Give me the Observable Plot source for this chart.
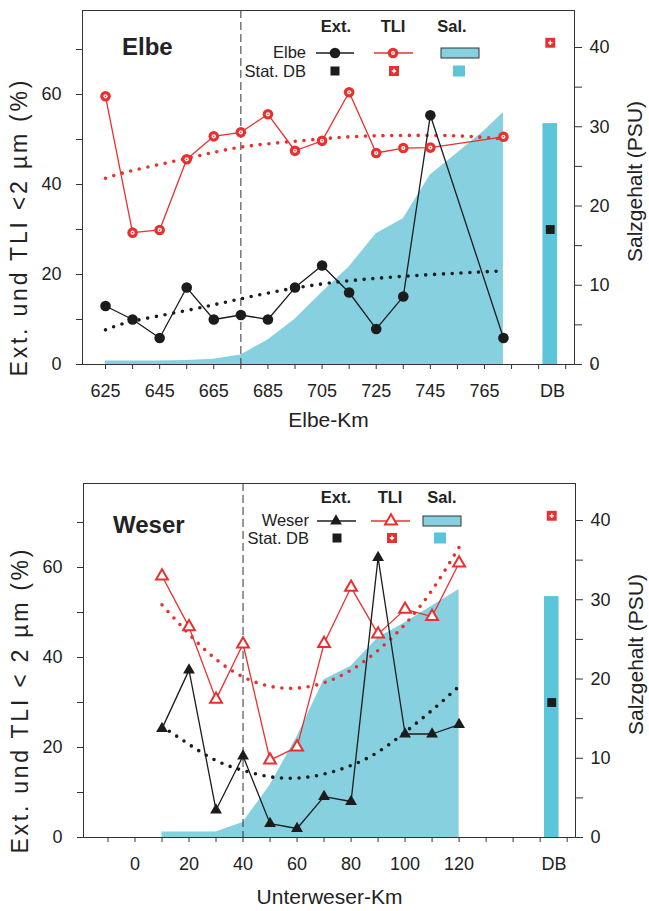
<!DOCTYPE html>
<html><head><meta charset="utf-8">
<script src="https://cdn.jsdelivr.net/npm/d3@7"></script>
<script src="https://cdn.jsdelivr.net/npm/@observablehq/plot@0.6"></script>
<style>
body{margin:0;background:#fff;width:649px;height:911px;overflow:hidden;font-family:"Liberation Sans",Arial,sans-serif;}
svg{display:block}
</style></head><body><div id="chart"></div>
<script>
// ---------- Elbe ----------
const elbeKm  = [625,635,645,655,665,675,685,695,705,715,725,735,745,772];
const elbeExt = [13.0,10.0,5.9,17.1,10.0,11.0,10.0,17.1,22.0,16.0,7.9,15.1,55.4,5.9];
const elbeTLI = [59.6,29.3,29.9,45.6,50.7,51.6,55.6,47.5,49.7,60.5,47.0,48.1,48.2,50.6];
const elbeTrendKm  = [625,635,655,675,695,715,735,755,772];
const elbeExtTrend = [7.7,9.6,12.0,14.6,17.0,18.6,19.6,20.3,20.8];
const elbeTLITrend = [41.4,43.1,45.8,48.3,49.6,50.6,50.9,50.8,50.1];
const elbeSalKm = [625,645,655,665,675,685,695,705,715,725,735,745,755,765,772];
const elbeSal   = [0.45,0.45,0.5,0.65,1.2,3.1,5.7,9.1,12.3,16.5,18.4,23.9,26.7,29.5,31.8];
const elbeXTicks = [625,635,645,655,665,675,685,695,705,715,725,735,745,755,765,775,785,795,805];
const elbeXLabels = [625,645,665,685,705,725,745,765];

// ---------- Weser ----------
const weserKm  = [10,20,30,40,50,60,70,80,90,100,110,120];
const weserExt = [24.2,37.2,6.1,18.1,3.1,2.0,9.1,8.0,62.2,23.0,23.0,25.1];
const weserTLI = [58.1,46.8,30.7,43.0,17.2,20.1,43.1,55.6,45.2,50.7,49.1,61.0];
const weserTrendKm  = [10,20,30,40,50,60,70,80,90,100,110,120];
const weserExtTrend = [24.7,20.7,17.1,14.9,13.5,13.2,14.1,16.0,19.0,23.4,28.3,33.6];
const weserTLITrend = [51.7,45.2,39.6,35.7,33.6,33.2,34.4,37.2,41.6,47.4,55.0,64.5];
const weserSalKm = [10,20,30,40,50,60,70,80,90,100,110,120];
const weserSal   = [0.7,0.7,0.7,1.9,6.6,12.7,19.9,21.6,25.2,27.1,29.2,31.3];
const weserXTicks = [-10,0,10,20,30,40,50,60,70,80,90,100,110,120,130,140,150,160];
const weserXLabels = [0,20,40,60,80,100,120];

// ---------- Stat. DB (same for both) ----------
const dbExt = 30.0, dbTLI = 71.5, dbSal = 30.4;

const yLeftTicks = [0,10,20,30,40,50,60,70];
const yLeftLabels = [0,20,40,60];
const yRightTicks = [0,5,10,15,20,25,30,35,40];
const yRightLabels = [0,10,20,30,40];

const RED = "#e8302e", BLACK = "#1c1c1c", AREA = "#86d0e0", DBC = "#5bc6da", AX = "#333";
const YMAX = 78.67, SALMAX = 44.67, k = YMAX / SALMAX;

function panel(cfg) {
  const pts = cfg.km.map((km, i) => ({km, ext: cfg.ext[i], tli: cfg.tli[i]}));
  const trend = cfg.trendKm.map((km, i) => ({km, ext: cfg.extTrend[i], tli: cfg.tliTrend[i]}));
  const sal = cfg.salKm.map((km, i) => ({km, s: cfg.sal[i] * k}));
  const db = [{km: cfg.dbKm, ext: dbExt, tli: dbTLI, s: dbSal * k}];
  const half = 2.7;
  const dotted = {curve: "natural", strokeWidth: 3.6, strokeDasharray: "0 8.8", strokeLinecap: "round"};
  const tliMarks = cfg.symbol === "circle" ? [
      Plot.dot(pts, {x: "km", y: "tli", r: 5.3, fill: RED, stroke: "none"}),
      Plot.dot(pts, {x: "km", y: "tli", r: 2.1, fill: "white", stroke: "none"}),
      Plot.dot(pts, {x: "km", y: "tli", r: 0.8, fill: RED, stroke: "none"})
    ] : [
      Plot.dot(pts, {x: "km", y: "tli", r: 4.4, symbol: "triangle", fill: "white", stroke: RED, strokeWidth: 2})
    ];
  const svg = Plot.plot({
    width: 649, height: cfg.height,
    marginTop: cfg.mt, marginBottom: cfg.mb, marginLeft: cfg.ml, marginRight: cfg.mr,
    style: {fontFamily: "'Liberation Sans', Arial, sans-serif", fontSize: "18px", color: "#222", background: "white"},
    x: {domain: cfg.xDomain, axis: null},
    y: {domain: [0, YMAX], axis: null},
    marks: [
      Plot.areaY(sal, {x: "km", y: "s", fill: AREA}),
      Plot.rectY(db, {x1: d => d.km - half, x2: d => d.km + half, y: "s", fill: DBC}),
      Plot.ruleX([cfg.boundary], {stroke: AX, strokeWidth: 1, strokeDasharray: "8,4"}),
      Plot.frame({stroke: AX, strokeWidth: 1}),
      Plot.line(trend, {x: "km", y: "tli", stroke: RED, ...dotted}),
      Plot.line(trend, {x: "km", y: "ext", stroke: BLACK, ...dotted}),
      Plot.line(pts, {x: "km", y: "tli", stroke: RED, strokeWidth: 1.3}),
      Plot.line(pts, {x: "km", y: "ext", stroke: BLACK, strokeWidth: 1.3}),
      ...tliMarks,
      Plot.dot(pts, {x: "km", y: "ext", r: cfg.symbol === "circle" ? 5.3 : 4.4, symbol: cfg.symbol, fill: BLACK, stroke: "none"}),
      Plot.dot(db, {x: "km", y: "ext", r: 5, symbol: "square", fill: BLACK, stroke: "none"}),
      Plot.dot(db, {x: "km", y: "tli", r: 5.6, symbol: "square", fill: RED, stroke: "none"}),
      Plot.dot(db, {x: "km", y: "tli", r: 1.8, symbol: "cross", fill: "white", stroke: "none"}),
      Plot.axisY(yLeftTicks, {anchor: "left", tickSize: 6, tickPadding: 15, stroke: AX, label: null,
        tickFormat: d => yLeftLabels.includes(d) ? d : ""}),
      Plot.axisY(yRightTicks.map(v => v * k), {anchor: "right", tickSize: 7, tickPadding: 8, stroke: AX, label: null,
        tickFormat: d => { const v = Math.round(d / k); return yRightLabels.includes(v) ? v : ""; }}),
      Plot.axisX(cfg.xTicks, {anchor: "bottom", tickSize: 5, tickPadding: 15, stroke: AX, label: null,
        tickFormat: d => cfg.xLabels.includes(d) ? d : ""}),
      Plot.axisX([cfg.dbKm + 0.8], {anchor: "bottom", tickSize: 0, tickPadding: 20, label: null, tickFormat: () => "DB"}),
      Plot.text([cfg.xTitle], {frameAnchor: "bottom", dy: cfg.xTitleDy, fontSize: 21, fill: "#222", textAnchor: "middle"}),
      Plot.text([cfg.yTitle], {frameAnchor: "left", dx: -63, dy: cfg.yTitleDy, rotate: -90, fontSize: 23, fill: "#222", textAnchor: "middle"}),
      Plot.text(["Salzgehalt (PSU)"], {frameAnchor: "right", dx: 61, dy: -6, rotate: -90, fontSize: 21, fill: "#222", textAnchor: "middle"})
    ]
  });

  // stretch the left axis title to the length it has in the reference
  d3.select(svg).selectAll("text").filter(function() { return this.textContent === cfg.yTitle; })
    .attr("textLength", cfg.yTitleLen).attr("lengthAdjust", "spacing");

  // legend & panel title
  const g = d3.select(svg).append("g").attr("font-family", "'Liberation Sans', Arial, sans-serif").attr("fill", "#222");
  const L = cfg.legend;
  g.append("text").attr("x", L.titleX).attr("y", L.titleY).attr("text-anchor", "start").attr("font-size", 24).attr("font-weight", "bold").text(cfg.name);
  [["Ext.", L.hx[0]], ["TLI", L.hx[1]], ["Sal.", L.hx[2]]].forEach(([t, x]) =>
    g.append("text").attr("x", x).attr("y", L.hy).attr("text-anchor", "middle").attr("font-size", 16.5).attr("font-weight", "bold").text(t));
  g.append("text").attr("x", L.labX).attr("y", L.r1y + 5).attr("text-anchor", "end").attr("font-size", 16.5).text(cfg.name);
  g.append("text").attr("x", L.labX).attr("y", L.r2y + 5.5).attr("text-anchor", "end").attr("font-size", 16.5).text("Stat. DB");
  g.append("line").attr("x1", L.ext[0]).attr("x2", L.ext[2]).attr("y1", L.r1y).attr("y2", L.r1y).attr("stroke", BLACK).attr("stroke-width", 1.3);
  const sym = (type, size) => d3.symbol(type === "circle" ? d3.symbolCircle : d3.symbolTriangle, size)();
  if (cfg.symbol === "circle") {
    g.append("circle").attr("cx", L.ext[1]).attr("cy", L.r1y).attr("r", 5.3).attr("fill", BLACK);
  } else {
    g.append("path").attr("d", sym("triangle", Math.PI * 4.4 * 4.4)).attr("transform", `translate(${L.ext[1]},${L.r1y})`).attr("fill", BLACK);
  }
  g.append("line").attr("x1", L.tli[0]).attr("x2", L.tli[2]).attr("y1", L.r1y).attr("y2", L.r1y).attr("stroke", RED).attr("stroke-width", 1.3);
  if (cfg.symbol === "circle") {
    g.append("circle").attr("cx", L.tli[1]).attr("cy", L.r1y).attr("r", 5.3).attr("fill", RED);
    g.append("circle").attr("cx", L.tli[1]).attr("cy", L.r1y).attr("r", 2.1).attr("fill", "white");
    g.append("circle").attr("cx", L.tli[1]).attr("cy", L.r1y).attr("r", 0.8).attr("fill", RED);
  } else {
    g.append("path").attr("d", sym("triangle", Math.PI * 4.4 * 4.4)).attr("transform", `translate(${L.tli[1]},${L.r1y})`)
      .attr("fill", "white").attr("stroke", RED).attr("stroke-width", 2);
  }
  g.append("rect").attr("x", L.sal[0]).attr("y", L.r1y - 5).attr("width", L.sal[1] - L.sal[0]).attr("height", 10)
    .attr("fill", AREA).attr("stroke", AX).attr("stroke-width", 1);
  g.append("rect").attr("x", L.sq[0] - 4.5).attr("y", L.r2y - 4.5).attr("width", 9).attr("height", 9).attr("fill", BLACK);
  g.append("rect").attr("x", L.sq[1] - 5).attr("y", L.r2y - 5).attr("width", 10).attr("height", 10).attr("fill", RED);
  g.append("path").attr("d", d3.symbol(d3.symbolCross, Math.PI * 1.8 * 1.8)()).attr("transform", `translate(${L.sq[1]},${L.r2y})`).attr("fill", "white");
  g.append("rect").attr("x", L.sq[2] - 6).attr("y", L.r2y - 5.5).attr("width", 12).attr("height", 11).attr("fill", DBC);
  return svg;
}

const chart = document.getElementById("chart");
chart.append(panel({
  name: "Elbe", height: 440, mt: 10, mb: 76, ml: 82, mr: 75,
  xDomain: [616.5, 798.25], boundary: 675, dbKm: 789.3,
  km: elbeKm, ext: elbeExt, tli: elbeTLI,
  trendKm: elbeTrendKm, extTrend: elbeExtTrend, tliTrend: elbeTLITrend,
  salKm: elbeSalKm, sal: elbeSal, xTicks: elbeXTicks, xLabels: elbeXLabels,
  symbol: "circle", xTitle: "Elbe-Km", xTitleDy: 62,
  yTitle: "Ext. und TLI <2 µm (%)", yTitleDy: 41, yTitleLen: 296,
  legend: {titleX: 122, titleY: 55, hx: [336, 393, 452], hy: 32, labX: 306, r1y: 53, r2y: 71,
           ext: [316, 335, 354], tli: [374, 393, 413], sal: [441, 479], sq: [335, 394, 459]}
}));
chart.append(panel({
  name: "Weser", height: 471, mt: 43, mb: 74, ml: 83, mr: 74,
  xDomain: [-19.07, 163.1], boundary: 40, dbKm: 154.3,
  km: weserKm, ext: weserExt, tli: weserTLI,
  trendKm: weserTrendKm, extTrend: weserExtTrend, tliTrend: weserTLITrend,
  salKm: weserSalKm, sal: weserSal, xTicks: weserXTicks, xLabels: weserXLabels,
  symbol: "triangle", xTitle: "Unterweser-Km", xTitleDy: 66,
  yTitle: "Ext. und TLI < 2 µm (%)", yTitleDy: 41, yTitleLen: 304,
  legend: {titleX: 113, titleY: 93, hx: [336, 390, 442], hy: 63, labX: 309, r1y: 81, r2y: 98,
           ext: [317, 336, 356], tli: [371, 391, 410], sal: [423, 461], sq: [337, 392, 440]}
}));
</script></body></html>
